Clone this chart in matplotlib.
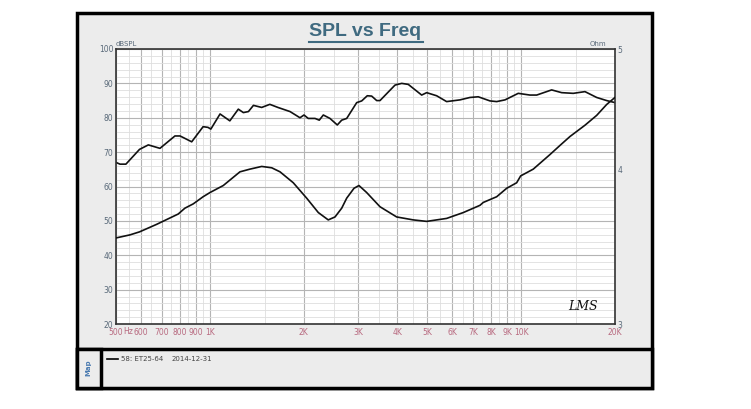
import matplotlib
matplotlib.use("Agg")
import matplotlib.pyplot as plt
from matplotlib.patches import Rectangle
from matplotlib.ticker import FixedLocator, NullFormatter, NullLocator
import numpy as np

# SPL curve (Hz, dB SPL)
spl_freq = [500, 515, 538, 595, 635, 692, 773, 803, 875, 952, 987, 1008,
            1079, 1160, 1235, 1282, 1331, 1381, 1468, 1559, 1655, 1810,
            1948, 2007, 2071, 2177, 2247, 2315, 2432, 2567, 2652, 2752,
            2963, 3075, 3204, 3310, 3435, 3520, 3933, 4133, 4339, 4790,
            4970, 5350, 5760, 6358, 6845, 7278, 7937, 8340, 8870, 9781,
            10666, 11210, 12520, 13486, 14690, 16020, 17466, 18800, 20000]
spl_db = [67.0, 66.5, 66.5, 70.8, 72.1, 71.1, 74.7, 74.7, 73.0, 77.4, 77.2, 76.7,
          81.1, 79.1, 82.5, 81.5, 81.8, 83.6, 83.0, 83.9, 83.0, 81.8,
          80.0, 80.8, 79.8, 79.8, 79.3, 80.8, 79.8, 77.9, 79.3, 79.8,
          84.4, 84.9, 86.4, 86.3, 85.0, 85.0, 89.5, 90.0, 89.7, 86.6,
          87.3, 86.4, 84.7, 85.2, 85.9, 86.1, 84.9, 84.7, 85.2, 87.1,
          86.6, 86.6, 88.1, 87.3, 87.1, 87.6, 85.9, 85.0, 84.4]

# impedance curve (Hz, Ohm)
imp_freq = [500, 554, 595, 675, 792, 832, 885, 952, 1002, 1105, 1250, 1346,
            1468, 1581, 1681, 1854, 2047, 2231, 2401, 2524, 2652, 2752,
            2904, 3013, 3189, 3520, 3981, 4502, 4970, 5760, 6516, 7372,
            7553, 8340, 8978, 9667, 9958, 10930, 12370, 13316, 14340,
            16020, 17466, 18800, 20000]
imp_ohm = [3.52, 3.54, 3.56, 3.61, 3.68, 3.72, 3.75, 3.80, 3.83, 3.88, 3.98, 4.00,
           4.02, 4.01, 3.98, 3.90, 3.79, 3.69, 3.64, 3.66, 3.72, 3.79,
           3.86, 3.88, 3.83, 3.73, 3.66, 3.64, 3.63, 3.65, 3.69, 3.74,
           3.76, 3.80, 3.86, 3.90, 3.95, 4.00, 4.11, 4.18, 4.25,
           4.34, 4.42, 4.51, 4.57]

major_f = [500, 600, 700, 800, 900, 1000, 2000, 3000, 4000, 5000, 6000,
           7000, 8000, 9000, 10000, 20000]
major_lbl = ['500', '600', '700', '800', '900', '1K', '2K', '3K', '4K', '5K',
             '6K', '7K', '8K', '9K', '10K', '20K']
minor_f = [550, 650, 750, 850, 950] + list(range(1500, 10000, 1000)) + [15000]

W, H = 751, 409
def fx(x): return x / W
def fy(y): return 1 - y / H

fig = plt.figure(figsize=(7.51, 4.09), dpi=100)
fig.patch.set_facecolor('white')

# outer frame and panels (behind the axes)
for x0, y0, x1, y1 in [(77, 13, 652, 388), (77, 349, 652, 388), (77, 349, 101, 388)]:
    fig.add_artist(Rectangle((fx(x0), fy(y1)), fx(x1) - fx(x0), fy(y0) - fy(y1),
                             facecolor='#ececec', edgecolor='black', lw=2.5, zorder=-10))
fig.text(fx(88), fy(368), 'Map', rotation=90, ha='center', va='center',
         fontsize=5, color='#4a7ab0', fontweight='bold')

# legend row
fig.add_artist(plt.Line2D([fx(107), fx(118)], [fy(359), fy(359)], color='black', lw=1.2))
fig.text(fx(121), fy(359), '58: ET25-64', fontsize=5, va='center', color='#444444')
fig.text(fx(172), fy(359), '2014-12-31', fontsize=5, va='center', color='#444444')

# title
fig.text(fx(365), fy(32), 'SPL vs Freq', ha='center', va='center', fontsize=14,
         fontweight='bold', color='#3f6a80', family='Liberation Sans')
fig.add_artist(plt.Line2D([fx(309), fx(423)], [fy(42), fy(42)], color='#3f6a80', lw=1.5))

ax = fig.add_axes([fx(116), fy(324), fx(615) - fx(116), fy(49) - fy(324)])
ax.set_facecolor('white')
ax.set_xscale('log')
ax.set_xlim(500, 20000)
ax.set_ylim(20, 100)
ax.xaxis.set_major_locator(FixedLocator(major_f))
ax.xaxis.set_minor_locator(FixedLocator(minor_f))
ax.xaxis.set_minor_formatter(NullFormatter())
ax.set_xticklabels(major_lbl)
ax.yaxis.set_major_locator(FixedLocator(range(20, 101, 10)))
ax.yaxis.set_minor_locator(FixedLocator(range(20, 101, 2)))
ax.grid(True, which='major', color='#b4b4b4', lw=0.8)
ax.grid(True, which='minor', color='#dedede', lw=0.6)
ax.tick_params(which='both', length=0)
ax.tick_params(axis='x', labelsize=5.5, labelcolor='#b86a80', pad=3)
ax.tick_params(axis='y', labelsize=5.5, labelcolor='#5a6a7a', pad=2)
for s in ax.spines.values():
    s.set_color('#333333')
    s.set_linewidth(1.2)

ax.plot(spl_freq, spl_db, color='#111111', lw=1.2)

ax2 = ax.twinx()
ax2.set_yscale('log')
ax2.set_ylim(3, 5)
ax2.yaxis.set_major_locator(FixedLocator([3, 4, 5]))
ax2.yaxis.set_minor_locator(NullLocator())
ax2.set_yticklabels(['3', '4', '5'])
ax2.tick_params(length=0, labelsize=5.5, labelcolor='#5a6a7a', pad=2)
ax2.plot(imp_freq, imp_ohm, color='#111111', lw=1.2)
for s in ax2.spines.values():
    s.set_visible(False)

# axis unit labels
fig.text(fx(116), fy(44), 'dBSPL', fontsize=5, color='#5a6a7a', va='center')
fig.text(fx(606), fy(44), 'Ohm', fontsize=5, color='#5a6a7a', va='center', ha='right')
fig.text(fx(128), fy(331), 'Hz', fontsize=5.5, color='#b86a80', va='center', ha='center')
ax.text(0.965, 0.04, 'LMS', transform=ax.transAxes, fontsize=9, style='italic',
        ha='right', va='bottom', color='#111111', family='DejaVu Serif')

fig.savefig('out.png', dpi=100, facecolor='white')
